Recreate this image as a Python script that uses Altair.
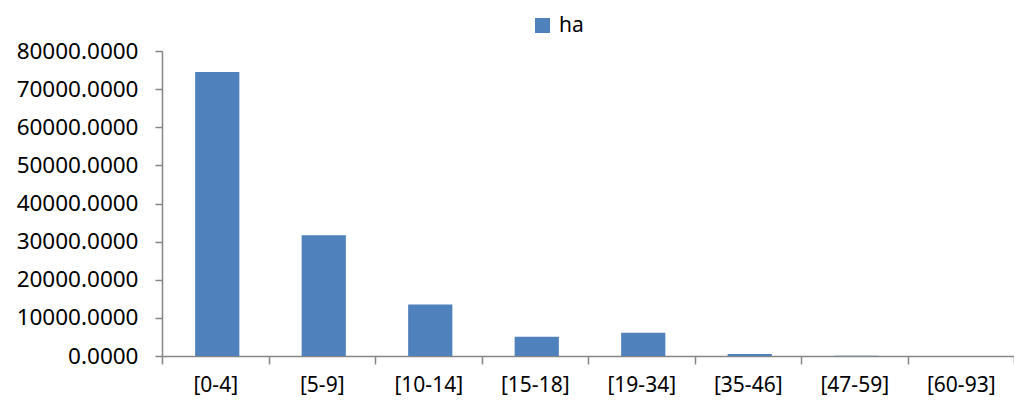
import altair as alt
import pandas as pd

categories = ["[0-4]", "[5-9]", "[10-14]", "[15-18]", "[19-34]", "[35-46]", "[47-59]", "[60-93]"]
values = [74500, 31700, 13500, 5050, 6100, 500, 60, 20]
series_name = "ha"
y_ticks = [0, 10000, 20000, 30000, 40000, 50000, 60000, 70000, 80000]

df = pd.DataFrame({"cat": categories, "val": values, "series": [series_name] * len(categories)})

FONT = "Noto Sans"
AXIS_COLOR = "#868686"

chart = alt.Chart(df).mark_bar(width=alt.RelativeBandSize(0.415), xOffset=2).encode(
    x=alt.X(
        "cat:N",
        sort=categories,
        scale=alt.Scale(paddingInner=0, paddingOuter=0),
        axis=alt.Axis(
            title=None,
            labelAngle=0,
            tickBand="extent",
            tickSize=8,
            labelPadding=10,
            labelFont=FONT,
            labelFontSize=21,
            labelColor="#000000",
            domainColor=AXIS_COLOR,
            tickColor=AXIS_COLOR,
            domainWidth=1.5,
            tickWidth=1.5,
            grid=False,
        ),
    ),
    y=alt.Y(
        "val:Q",
        scale=alt.Scale(domain=[0, 80000], nice=False),
        axis=alt.Axis(
            title=None,
            values=y_ticks,
            format=".4f",
            tickSize=7,
            labelPadding=17,
            labelFont=FONT,
            labelFontSize=22.5,
            labelColor="#000000",
            domainColor=AXIS_COLOR,
            tickColor=AXIS_COLOR,
            domainWidth=1.5,
            tickWidth=1.5,
            grid=False,
        ),
    ),
    color=alt.Color(
        "series:N",
        scale=alt.Scale(range=["#4F81BD"]),
        legend=alt.Legend(
            title=None,
            orient="none",
            legendX=370,
            legendY=-36,
            symbolType="square",
            symbolSize=225,
            symbolStrokeWidth=0,
            labelFont=FONT,
            labelFontSize=21,
            labelColor="#000000",
            labelOffset=6,
            labelLimit=200,
        ),
    ),
).properties(
    width=852,
    height=305,
    autosize=alt.AutoSizeParams(type="none"),
    padding={"left": 154, "top": 43, "right": 0, "bottom": 41},
).configure(background="#ffffff").configure_view(strokeWidth=0, stroke=None)

chart.save("out.html", embed_options={"renderer": "svg", "actions": False})
